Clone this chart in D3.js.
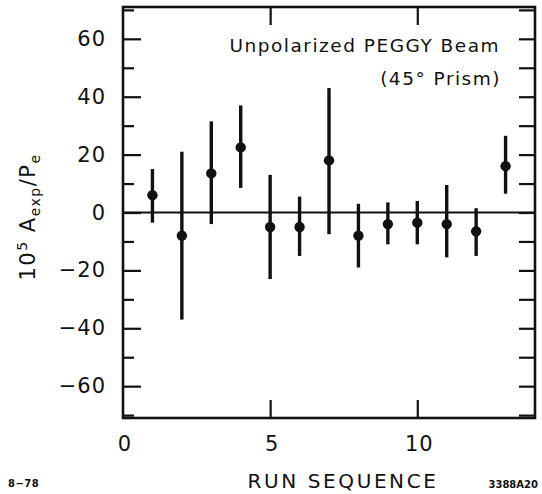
<!DOCTYPE html>
<html>
<head>
<meta charset="utf-8">
<script src="https://cdn.jsdelivr.net/npm/d3@7"></script>
<style>
  body { margin: 0; background: #fff; }
  text { font-family: "DejaVu Sans", sans-serif; fill: #111; }
</style>
</head>
<body>
<div id="chart"></div>
<script>
// --------------------------------------
//  Data
// --------------------------------------

const runs = [1, 2, 3, 4, 5, 6, 7, 8, 9, 10, 11, 12, 13];
const asym = [6, -8, 13.5, 22.5, -5, -5, 18, -8, -4, -3.5, -4, -6.5, 16];
const upper = [15, 21, 31.5, 37, 13, 5.5, 43, 3, 3.5, 4, 9.5, 1.5, 26.5];
const lower = [-3.5, -37, -4, 8.5, -23, -15, -7.5, -19, -11, -11, -15.5, -15, 6.5];

const xTicks = [0, 5, 10];
const yTicks = [-60, -40, -20, 0, 20, 40, 60];
const yMinor = [-70, -50, -30, -10, 10, 30, 50, 70];

// --------------------------------------
//  Margin and canvas
// --------------------------------------

const width = 542;
const height = 494;
const margin = {top: 7, right: 7, bottom: 76, left: 123};
const innerwidth = width - margin.left - margin.right;
const innerheight = height - margin.top - margin.bottom;

const svg = d3.select("#chart")
  .append("svg")
    .attr("width", width)
    .attr("height", height);

const innerChart = svg.append("g")
    .attr("transform", `translate(${margin.left}, ${margin.top})`);

// --------------------------------------
//  Scales
// --------------------------------------

const x = d3.scaleLinear().domain([0, 14]).range([0, innerwidth]);
const y = d3.scaleLinear().domain([-71, 71]).range([innerheight, 0]);

const data = runs.map((r, i) => ({run: r, a: asym[i], hi: upper[i], lo: lower[i]}));

// --------------------------------------
//  Axes
// --------------------------------------

const left = innerChart.append("g")
    .call(d3.axisRight(y).tickValues(yTicks).tickSize(18).tickFormat(""));
left.append("g")
    .call(d3.axisRight(y).tickValues(yMinor).tickSize(11).tickFormat(""));

innerChart.append("g")
    .attr("transform", `translate(${innerwidth}, 0)`)
    .call(d3.axisLeft(y).tickValues(yTicks.concat(yMinor)).tickSize(16).tickFormat(""));

innerChart.append("g")
    .attr("transform", `translate(0, ${innerheight})`)
    .call(d3.axisTop(x).tickValues([5, 10]).tickSize(18).tickFormat(""));

innerChart.append("g")
    .call(d3.axisBottom(x).tickValues([5, 10]).tickSize(18).tickFormat(""));

innerChart.selectAll(".domain").remove();
innerChart.selectAll(".tick line").attr("stroke", "#111").attr("stroke-width", 2.2);

// frame
innerChart.append("rect")
    .attr("width", innerwidth)
    .attr("height", innerheight)
    .attr("fill", "none")
    .attr("stroke", "#111")
    .attr("stroke-width", 2.6);

// tick labels
svg.selectAll(".ylab")
  .data(yTicks)
  .join("text")
    .attr("class", "ylab")
    .attr("x", 106)
    .attr("y", d => margin.top + y(d) + 7)
    .attr("text-anchor", "end")
    .attr("font-size", 21)
    .attr("letter-spacing", 1)
    .text(d => d < 0 ? "\u2212" + Math.abs(d) : d);

svg.selectAll(".xlab")
  .data(xTicks)
  .join("text")
    .attr("class", "xlab")
    .attr("x", d => margin.left + x(d) + 2)
    .attr("y", 451)
    .attr("text-anchor", "middle")
    .attr("font-size", 21)
    .attr("letter-spacing", 1)
    .text(d => d);

// zero line
innerChart.append("line")
    .attr("x1", 0).attr("x2", innerwidth)
    .attr("y1", y(0)).attr("y2", y(0))
    .attr("stroke", "#111")
    .attr("stroke-width", 2);

// --------------------------------------
//  Data drawing
// --------------------------------------

innerChart.selectAll(".err")
  .data(data)
  .join("line")
    .attr("class", "err")
    .attr("x1", d => x(d.run)).attr("x2", d => x(d.run))
    .attr("y1", d => y(d.hi)).attr("y2", d => y(d.lo))
    .attr("stroke", "#111")
    .attr("stroke-width", 3.4);

innerChart.selectAll(".pt")
  .data(data)
  .join("circle")
    .attr("class", "pt")
    .attr("cx", d => x(d.run))
    .attr("cy", d => y(d.a))
    .attr("r", 5.2)
    .attr("fill", "#111");

// --------------------------------------
//  Labels
// --------------------------------------

svg.append("text")
    .attr("x", 500).attr("y", 52)
    .attr("text-anchor", "end")
    .attr("font-size", 18.5)
    .attr("letter-spacing", 1.5)
    .text("Unpolarized PEGGY Beam");

svg.append("text")
    .attr("x", 501).attr("y", 85)
    .attr("text-anchor", "end")
    .attr("font-size", 18.5)
    .attr("letter-spacing", 1.5)
    .text("(45\u00b0 Prism)");

svg.append("text")
    .attr("x", 343).attr("y", 488)
    .attr("text-anchor", "middle")
    .attr("font-size", 20)
    .attr("letter-spacing", 2.6)
    .text("RUN SEQUENCE");

const ylab = svg.append("text")
    .attr("transform", "translate(35, 217) rotate(-90)")
    .attr("text-anchor", "middle")
    .attr("font-size", 21)
    .attr("letter-spacing", 1.5);
ylab.append("tspan").text("10");
ylab.append("tspan").attr("font-size", 14).attr("dy", -8).text("5");
ylab.append("tspan").attr("dy", 8).text(" A");
ylab.append("tspan").attr("font-size", 14).attr("dy", 5).text("exp");
ylab.append("tspan").attr("dy", -5).text("/P");
ylab.append("tspan").attr("font-size", 14).attr("dy", 5).text("e");

svg.append("text")
    .attr("x", 8).attr("y", 487)
    .attr("font-size", 10)
    .attr("font-weight", "bold")
    .attr("letter-spacing", 0.5)
    .text("8\u221278");

svg.append("text")
    .attr("x", 538).attr("y", 488)
    .attr("text-anchor", "end")
    .attr("font-size", 10)
    .attr("font-weight", "bold")
    .text("3388A20");
</script>
</body>
</html>
